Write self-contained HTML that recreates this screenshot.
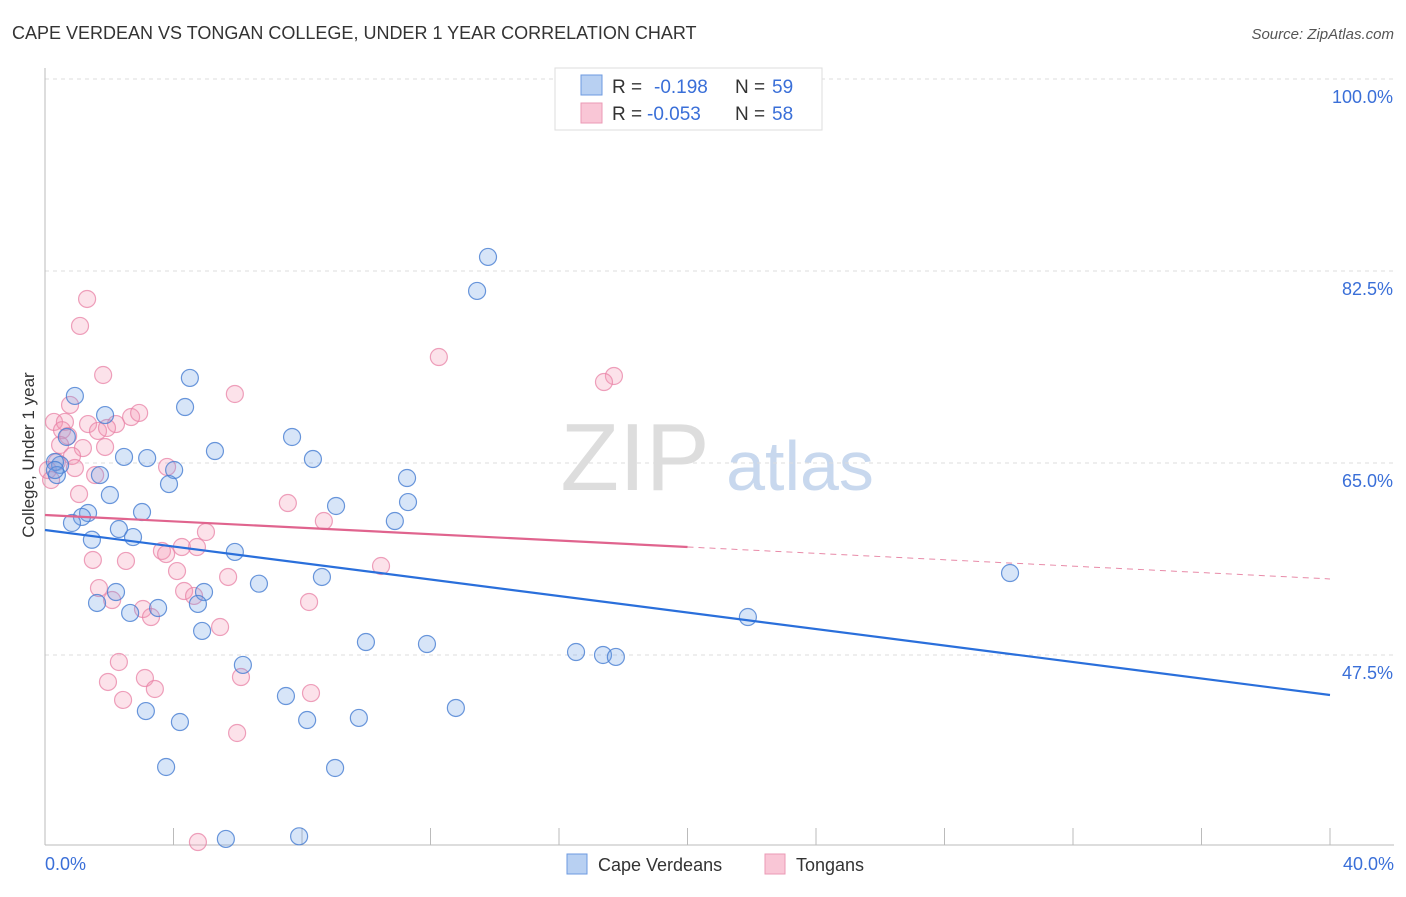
<!DOCTYPE html>
<html><head><meta charset="utf-8"><style>
body{margin:0;background:#fff;font-family:"Liberation Sans",sans-serif;}
svg text{font-family:"Liberation Sans",sans-serif;}
</style></head><body>
<svg id="chart" width="1406" height="892">
<text x="12" y="39" font-size="18" fill="#333">CAPE VERDEAN VS TONGAN COLLEGE, UNDER 1 YEAR CORRELATION CHART</text>
<text x="1394" y="39" font-size="15" fill="#555" font-style="italic" text-anchor="end">Source: ZipAtlas.com</text>
<text x="635" y="490" font-size="96" fill="#ddd" font-family="Liberation Serif" text-anchor="middle">ZIP</text>
<text x="800" y="490" font-size="70" fill="#c8d8ee" text-anchor="middle">atlas</text>
<g id="grid"></g>
<g id="axes"></g>
<g id="marks"></g>
<text transform="translate(34,455) rotate(-90)" font-size="17" fill="#333" text-anchor="middle">College, Under 1 year</text>
<text x="45" y="870" font-size="18" fill="#3a6fd8">0.0%</text>
<text x="1394" y="870" font-size="18" fill="#3a6fd8" text-anchor="end">40.0%</text>
<g>
<rect x="567" y="854" width="20" height="20" fill="#b8d0f2" stroke="#6d9ae0"/>
<text x="598" y="871" font-size="18" fill="#333">Cape Verdeans</text>
<rect x="765" y="854" width="20" height="20" fill="#f9c6d6" stroke="#eb9ab5"/>
<text x="796" y="871" font-size="18" fill="#333">Tongans</text>
</g>
<g>
<rect x="555" y="68" width="267" height="62" fill="#fff" stroke="#ddd"/>
<rect x="581" y="75" width="21" height="20" fill="#b8d0f2" stroke="#6d9ae0"/>
<text x="612" y="93" font-size="19" fill="#333">R =</text>
<text x="654" y="93" font-size="19" fill="#3a6fd8">-0.198</text>
<text x="735" y="93" font-size="19" fill="#333">N =</text>
<text x="772" y="93" font-size="19" fill="#3a6fd8">59</text>
<rect x="581" y="103" width="21" height="20" fill="#f9c6d6" stroke="#eb9ab5"/>
<text x="612" y="120" font-size="19" fill="#333">R =</text>
<text x="647" y="120" font-size="19" fill="#3a6fd8">-0.053</text>
<text x="735" y="120" font-size="19" fill="#333">N =</text>
<text x="772" y="120" font-size="19" fill="#3a6fd8">58</text>
</g>
</svg>
<script>
const yTicks=[100,82.5,65,47.5];
const yTickLabels=["100.0%","82.5%","65.0%","47.5%"];
const xTicks=[0,4,8,12,16,20,24,28,32,36,40];
const blueX=[13.79,13.45,4.51,0.93,4.36,1.87,0.68,5.29,7.69,2.46,3.18,8.34,0.47,0.31,4.02,1.71,11.27,0.37,3.86,2.02,11.30,3.02,9.06,1.34,1.15,0.84,10.89,2.30,2.74,1.46,5.91,8.62,6.66,2.21,4.95,1.62,4.76,3.52,2.65,21.88,30.04,4.89,9.99,11.89,16.53,17.37,17.77,6.16,7.50,3.14,4.20,8.16,9.77,12.79,3.77,9.03,5.63,7.91,0.31];
const blueY=[83.78,80.68,72.75,71.11,70.10,69.37,67.37,66.09,67.37,65.55,65.45,65.36,64.82,65.09,64.36,63.90,63.63,63.90,63.08,62.08,61.44,60.53,61.08,60.44,60.08,59.53,59.71,58.98,58.25,58.0,56.89,54.61,54.0,53.24,53.24,52.24,52.15,51.78,51.33,50.96,54.97,49.69,48.68,48.50,47.77,47.5,47.32,46.59,43.76,42.39,41.39,41.57,41.76,42.67,37.29,37.20,30.73,30.97,64.36];
const pinkX=[1.31,1.09,12.26,1.81,17.71,17.40,5.91,0.78,0.28,0.62,2.68,1.34,2.21,1.65,0.53,0.72,0.47,1.18,0.84,0.37,0.93,0.09,1.56,0.19,1.06,7.56,8.68,5.01,4.73,4.26,3.64,3.77,1.49,2.52,10.46,5.70,4.11,1.68,4.33,4.64,2.09,3.05,3.30,8.22,5.45,2.30,3.11,1.96,3.42,6.10,8.28,2.43,5.98,4.76,1.93,2.93,3.80,1.87];
const pinkY=[79.95,77.49,74.66,73.02,72.93,72.38,71.29,70.29,68.74,68.74,69.19,68.55,68.55,67.92,67.99,67.46,66.64,66.36,65.64,65.09,64.54,64.36,63.90,63.45,62.17,61.35,59.71,58.71,57.34,57.34,56.98,56.70,56.16,56.07,55.61,54.61,55.15,53.60,53.33,52.88,52.51,51.69,50.96,52.33,50.05,46.86,45.40,45.04,44.40,45.49,44.03,43.40,40.39,30.45,68.19,69.56,64.64,66.46];
const blueTrend=[58.89,43.85];
const pinkTrend=[60.26,54.43];
const pinkSolidEnd=20;

const NS="http://www.w3.org/2000/svg";
const X0=45,X1=1330,Y100=79,PXPER=10.971;
function sx(v){return X0+(v/40)*(X1-X0);}
function sy(v){return Y100+(100-v)*PXPER;}
function mk(tag,attrs,parent){const e=document.createElementNS(NS,tag);for(const k in attrs)e.setAttribute(k,attrs[k]);parent.appendChild(e);return e;}
const grid=document.getElementById('grid'),axes=document.getElementById('axes'),marks=document.getElementById('marks');
yTicks.forEach((t,i)=>{
 const l=mk('line',{x1:X0,x2:1394,y1:sy(t),y2:sy(t),stroke:'#ddd','stroke-dasharray':'4,4'},grid);
 
 
 const tx=mk('text',{x:1393,y:sy(t)+24,'font-size':18,fill:'#3a6fd8','text-anchor':'end'},grid);
 tx.textContent=yTickLabels[i];
 
 
});
const ax=mk('line',{x1:X0,x2:X0,y1:68,y2:845,stroke:'#bbb'},axes);


const bx=mk('line',{x1:X0,x2:1394,y1:845,y2:845,stroke:'#bbb'},axes);


xTicks.forEach(t=>{
 const l=mk('line',{x1:sx(t),x2:sx(t),y1:828,y2:845,stroke:'#bbb'},axes);
 
 
});
function dots(xs,ys,fill,stroke,name){
 xs.forEach((x,i)=>{
  const c=mk('circle',{cx:sx(x),cy:sy(ys[i]),r:8.5,fill:fill,stroke:stroke,'stroke-width':1.2},marks);
  
  
 });
}
dots(pinkX,pinkY,'rgba(244,150,180,0.28)','rgba(232,130,165,0.75)','tongan-point');
dots(blueX,blueY,'rgba(110,160,230,0.28)','rgba(70,125,210,0.8)','cape-verdean-point');
function ly(tr,x){return tr[0]+(tr[1]-tr[0])*x/40;}
const bl=mk('line',{x1:sx(0),y1:sy(ly(blueTrend,0)),x2:sx(40),y2:sy(ly(blueTrend,40)),stroke:'#2a6fdb','stroke-width':2.2},marks);


const pl=mk('line',{x1:sx(0),y1:sy(ly(pinkTrend,0)),x2:sx(pinkSolidEnd),y2:sy(ly(pinkTrend,pinkSolidEnd)),stroke:'#e0648e','stroke-width':2.2},marks);


const pd=mk('line',{x1:sx(pinkSolidEnd),y1:sy(ly(pinkTrend,pinkSolidEnd)),x2:sx(40),y2:sy(ly(pinkTrend,40)),stroke:'#e88aa8','stroke-width':1,'stroke-dasharray':'6,5'},marks);


</script>
</body></html>
